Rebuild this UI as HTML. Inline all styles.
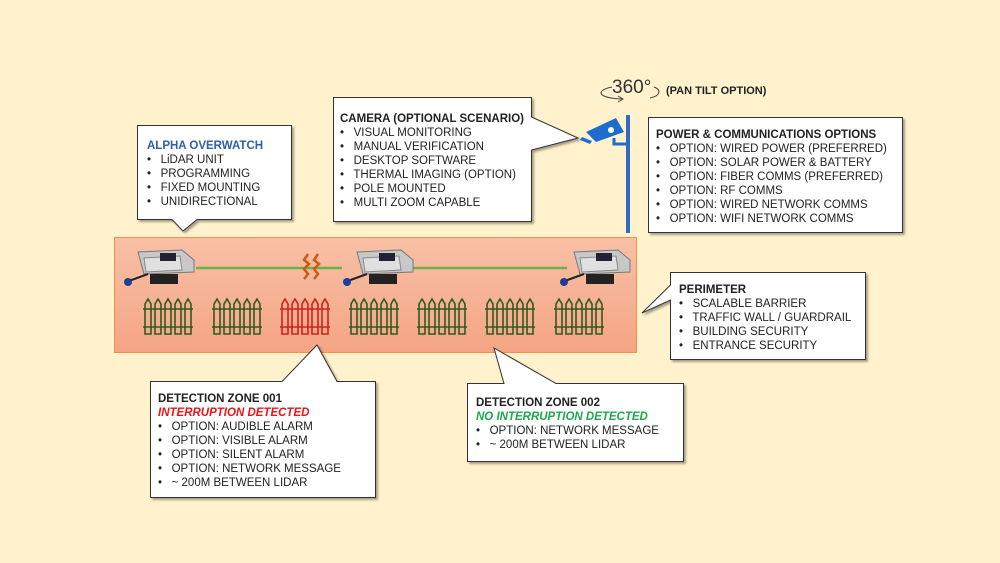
<!DOCTYPE html>
<html><head><meta charset="utf-8"><style>
html,body{margin:0;padding:0;background:#fff2cc;}
svg{display:block;font-family:"Liberation Sans",Arial,sans-serif;}
text{font-size:11.5px;fill:#222;}
.b{font-weight:bold;}
</style></head><body>
<svg width="1000" height="563" viewBox="0 0 1000 563">
<defs>
<linearGradient id="g" x1="0" y1="0" x2="0" y2="1"><stop offset="0" stop-color="#f8c0a6"/><stop offset="1" stop-color="#f5a584"/></linearGradient>
<g id="fence" fill="none" stroke-width="1.6">
<path d="M2 8 L5 3 L8 8 V38 H2 Z M12 8 L15 3 L18 8 V38 H12 Z M22 8 L25 3 L28 8 V38 H22 Z M32 8 L35 3 L38 8 V38 H32 Z M42 8 L45 3 L48 8 V38 H42 Z"/>
<path d="M0 13 H50 M0 31 H50"/>
</g>
<g id="cam">
<path d="M14 2 L58 0 L70 10 L70 22 L20 24 Z" fill="#c8c8c8" stroke="#777"/>
<path d="M20 8 L56 6 L58 20 L22 22 Z" fill="#e0e0e0" stroke="#888"/>
<rect x="36" y="3" width="16" height="8" fill="#223" />
<rect x="26" y="24" width="28" height="10" fill="#222"/>
<path d="M2 32 L24 24" stroke="#222" stroke-width="2"/>
<circle cx="4" cy="32" r="4" fill="#1a3f9a"/>
</g>
</defs>
<rect width="1000" height="563" fill="#fff2cc"/>
<rect x="114.5" y="237.5" width="522" height="115" fill="url(#g)" stroke="#f0904c"/>
<line x1="196" y1="268" x2="342" y2="268" stroke="#6ab04c" stroke-width="2.5"/>
<line x1="400" y1="268" x2="567" y2="268" stroke="#6ab04c" stroke-width="2.5"/>
<path d="M308 254 l-4 6 l5 4 l-5 5 l4 5 l-4 5 M318 254 l-4 6 l5 4 l-5 5 l4 5 l-4 5" stroke="#c85a1a" stroke-width="2.5" fill="none"/>
<use href="#cam" x="124" y="250"/>
<use href="#cam" x="343" y="250"/>
<use href="#cam" x="560" y="250"/>
<use href="#fence" x="143" y="296" stroke="#2f5a1e"/>
<use href="#fence" x="212" y="296" stroke="#2f5a1e"/>
<use href="#fence" x="280" y="296" stroke="#d0201c"/>
<use href="#fence" x="349" y="296" stroke="#2f5a1e"/>
<use href="#fence" x="417" y="296" stroke="#2f5a1e"/>
<use href="#fence" x="485" y="296" stroke="#2f5a1e"/>
<use href="#fence" x="554" y="296" stroke="#2f5a1e"/>
<rect x="626" y="115" width="4" height="118" fill="#2e6cc8"/>
<path d="M586 132 L616 118 L624 132 L596 142 Z" fill="#1f6ccf"/>
<path d="M582 137 L592 141 L590 144 L580 140 Z" fill="#1f6ccf"/>
<path d="M614 138 v6 h12" stroke="#1f6ccf" stroke-width="3" fill="none"/>
<circle cx="611" cy="130" r="3" fill="#fff"/>
<text x="612" y="93" style="font-size:19px;fill:#333">360°</text>
<path d="M612 87 C596 90 596 98 622 99" stroke="#444" fill="none"/>
<path d="M618 96 l5 3 l-5 3" stroke="#444" fill="none"/>
<path d="M654 87 C662 90 660 96 650 98" stroke="#444" fill="none"/>
<text x="666" y="94" class="b" style="font-size:11px">(PAN TILT OPTION)</text>
<g fill="#fff" stroke="#333" stroke-width="1" style="filter:drop-shadow(2px 2px 1px rgba(0,0,0,.35))">
<path d="M137.5 125.5 H291.5 V219.5 H197 L183 231 L172 219.5 H137.5 Z"/>
<path d="M333.5 97.5 H531.5 V117 L578 138 L531.5 150 V221.5 H333.5 Z"/>
<rect x="648.5" y="117.5" width="254" height="115"/>
<path d="M670.5 272.5 H865.5 V359.5 H670.5 V300 L642 313 L670.5 285 Z"/>
<path d="M150.5 381.5 H282 L317 345 L337 381.5 H375.5 V497.5 H150.5 Z"/>
<path d="M467.5 383.5 H504 L494 348 L556 383.5 H683.5 V461.5 H467.5 Z"/>
</g>
<g>
<text x="147" y="149" class="b" style="fill:#2f5fa8">ALPHA OVERWATCH</text>
<text x="147" y="163">•&#160;&#160; LiDAR UNIT</text>
<text x="147" y="177">•&#160;&#160; PROGRAMMING</text>
<text x="147" y="191">•&#160;&#160; FIXED MOUNTING</text>
<text x="147" y="205">•&#160;&#160; UNIDIRECTIONAL</text>

<text x="340" y="122" class="b">CAMERA (OPTIONAL SCENARIO)</text>
<text x="340" y="136">•&#160;&#160; VISUAL MONITORING</text>
<text x="340" y="150">•&#160;&#160; MANUAL VERIFICATION</text>
<text x="340" y="164">•&#160;&#160; DESKTOP SOFTWARE</text>
<text x="340" y="178">•&#160;&#160; THERMAL IMAGING (OPTION)</text>
<text x="340" y="192">•&#160;&#160; POLE MOUNTED</text>
<text x="340" y="206">•&#160;&#160; MULTI ZOOM CAPABLE</text>

<text x="656" y="138" class="b">POWER &amp; COMMUNICATIONS OPTIONS</text>
<text x="656" y="152">•&#160;&#160; OPTION: WIRED POWER (PREFERRED)</text>
<text x="656" y="166">•&#160;&#160; OPTION: SOLAR POWER &amp; BATTERY</text>
<text x="656" y="180">•&#160;&#160; OPTION: FIBER COMMS (PREFERRED)</text>
<text x="656" y="194">•&#160;&#160; OPTION: RF COMMS</text>
<text x="656" y="208">•&#160;&#160; OPTION: WIRED NETWORK COMMS</text>
<text x="656" y="222">•&#160;&#160; OPTION: WIFI NETWORK COMMS</text>

<text x="679" y="293" class="b">PERIMETER</text>
<text x="679" y="307">•&#160;&#160; SCALABLE BARRIER</text>
<text x="679" y="321">•&#160;&#160; TRAFFIC WALL / GUARDRAIL</text>
<text x="679" y="335">•&#160;&#160; BUILDING SECURITY</text>
<text x="679" y="349">•&#160;&#160; ENTRANCE SECURITY</text>

<text x="158" y="402" class="b">DETECTION ZONE 001</text>
<text x="158" y="416" class="b" style="fill:#e8141a;font-style:italic">INTERRUPTION DETECTED</text>
<text x="158" y="430">•&#160;&#160; OPTION: AUDIBLE ALARM</text>
<text x="158" y="444">•&#160;&#160; OPTION: VISIBLE ALARM</text>
<text x="158" y="458">•&#160;&#160; OPTION: SILENT ALARM</text>
<text x="158" y="472">•&#160;&#160; OPTION: NETWORK MESSAGE</text>
<text x="158" y="486">•&#160;&#160; ~ 200M BETWEEN LIDAR</text>

<text x="476" y="406" class="b">DETECTION ZONE 002</text>
<text x="476" y="420" class="b" style="fill:#1ca84a;font-style:italic">NO INTERRUPTION DETECTED</text>
<text x="476" y="434">•&#160;&#160; OPTION: NETWORK MESSAGE</text>
<text x="476" y="448">•&#160;&#160; ~ 200M BETWEEN LIDAR</text>
</g>
</svg>
</body></html>
